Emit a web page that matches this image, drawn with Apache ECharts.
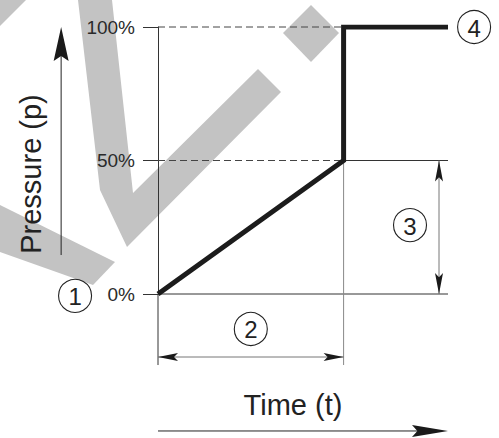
<!DOCTYPE html>
<html><head><meta charset="utf-8">
<script src="https://cdn.jsdelivr.net/npm/echarts@6/dist/echarts.min.js"></script>
<style>html,body{margin:0;padding:0;background:#fff;}#c{width:499px;height:438px;}</style>
</head><body><div id="c"></div>
<script>
// ---- data ----
const time = [0, 64, 64, 100];          // time (t), % of the axis width
const pressure = [0, 50, 100, 100];     // pressure (p), %
const yTickValues = [0, 50, 100];
const yTickLabels = ['0%', '50%', '100%'];
const calloutLabels = ['1', '2', '3', '4'];
const calloutTime = [-28.6, 32, 86.9, 109];
const calloutPressure = [-0.7, -13.1, 25.8, 100];
const xTitle = 'Time (t)';
const yTitle = 'Pressure (p)';
// guide / dimension geometry in data units
const guideBottom = -26.6;   // lower end of the vertical guide lines
const dimArrowY = -23.6;     // horizontal dimension arrow (2)
const dimArrowX = 96.9;      // vertical dimension arrow (3)
const yArrowX = -33.4, yArrowFrom = 14.6, yArrowTo = 100;
const xArrowY = -51.3, xArrowFrom = 0, xArrowTo = 100;

const FONT = '"Liberation Sans", Arial, Helvetica, sans-serif';
const chart = echarts.init(document.getElementById('c'), null, {renderer: 'svg'});
chart.setOption({
  animation: false,
  backgroundColor: '#fff',
  grid: {left: 158, right: 51, top: 27, bottom: 144},
  xAxis: {type: 'value', min: 0, max: 100, show: false},
  yAxis: {
    type: 'value', min: 0, max: 100, interval: 50,
    axisLine: {show: true, lineStyle: {color: '#333', width: 1}},
    axisTick: {show: true, length: 15, lineStyle: {color: '#333', width: 1}},
    axisLabel: {
      margin: 23, fontSize: 19, color: '#2a2a2a', fontFamily: FONT,
      padding: [4, 0, 0, 0],
      formatter: v => { const i = yTickValues.indexOf(v); return i >= 0 ? yTickLabels[i] : ''; }
    },
    splitLine: {show: false}
  },
  series: [{
    type: 'line', data: time.map((t, i) => [t, pressure[i]]),
    symbol: 'none', z: 10,
    lineStyle: {color: '#1c1c1c', width: 5, join: 'miter', cap: 'butt'}
  }]
});

const P = (x, y) => chart.convertToPixel({gridIndex: 0}, [x, y]);
const els = [];
const GREY = '#c3c3c3';
// watermark (decoration)
[
  [[0,0],[26,0],[0,26]],
  [[78,0],[112,0],[133,193],[258,69],[281,92],[127,247],[100,190]],
  [[0,205],[115,262],[93,285],[0,252]],
  [[311,5],[339,33],[311,62],[283,33]]
].forEach(pts => els.push({type: 'polygon', z: -10, shape: {points: pts}, style: {fill: GREY}}));

function line(a, b, color, dash, w) {
  els.push({type: 'line', z: 1, shape: {x1: a[0], y1: a[1], x2: b[0], y2: b[1]},
    style: {stroke: color, lineWidth: w || 1, lineDash: dash || null}});
}
function head(tip, from, L, W, notch) {
  const dx = tip[0] - from[0], dy = tip[1] - from[1];
  const len = Math.hypot(dx, dy), ux = dx / len, uy = dy / len, px = -uy, py = ux;
  const bx = tip[0] - ux * L, by = tip[1] - uy * L;
  els.push({type: 'polygon', z: 3, shape: {points: [
    tip, [bx + px * W / 2, by + py * W / 2],
    [tip[0] - ux * L * notch, tip[1] - uy * L * notch],
    [bx - px * W / 2, by - py * W / 2]]}, style: {fill: '#1a1a1a'}});
}
const bp = time[1];
line(P(0, 100), P(bp, 100), '#444', [7, 4]);
line(P(0, 50), P(bp, 50), '#444', [7, 4]);
line(P(bp, 50), P(100, 50), '#333');
line(P(0, 0), P(100, 0), '#333');
line(P(0, 0), P(0, guideBottom), '#333');
line(P(bp, 50), P(bp, guideBottom), '#888');
// dimension arrows
{
  const a = P(0, dimArrowY), b = P(bp, dimArrowY);
  line(a, b, '#777'); head(a, b, 20, 8, 0.8); head(b, a, 20, 8, 0.8);
  const c = P(dimArrowX, 50), d = P(dimArrowX, 0);
  line(c, d, '#777'); head(c, d, 21, 8, 0.8); head(d, c, 21, 8, 0.8);
}
// axis direction arrows
{
  const a = P(yArrowX, yArrowFrom), b = P(yArrowX, yArrowTo);
  line(a, [b[0], b[1] + 20], '#222'); head(b, a, 34, 15, 0.85);
  const c = P(xArrowFrom, xArrowY), d = P(xArrowTo, xArrowY);
  line(c, [d[0] - 20, d[1]], '#222'); head(d, c, 36, 12, 0.85);
}
// callouts
calloutLabels.forEach((t, i) => {
  const p = P(calloutTime[i], calloutPressure[i]);
  els.push({type: 'circle', z: 4, shape: {cx: p[0], cy: p[1], r: 16.5}, style: {fill: 'none', stroke: '#222', lineWidth: 1.1}});
  els.push({type: 'text', z: 5, x: p[0], y: p[1] + 1, style: {text: t, fontSize: 24, fontFamily: FONT, fill: '#222', align: 'center', verticalAlign: 'middle'}});
});
// titles
els.push({type: 'text', z: 5, x: 31, y: 174, rotation: Math.PI / 2,
  style: {text: yTitle, fontSize: 29, fontFamily: FONT, fill: '#222', align: 'center', verticalAlign: 'middle'}});
els.push({type: 'text', z: 5, x: 293, y: 405,
  style: {text: xTitle, fontSize: 29, fontFamily: FONT, fill: '#222', align: 'center', verticalAlign: 'middle'}});
chart.setOption({graphic: {elements: els}});
</script></body></html>
